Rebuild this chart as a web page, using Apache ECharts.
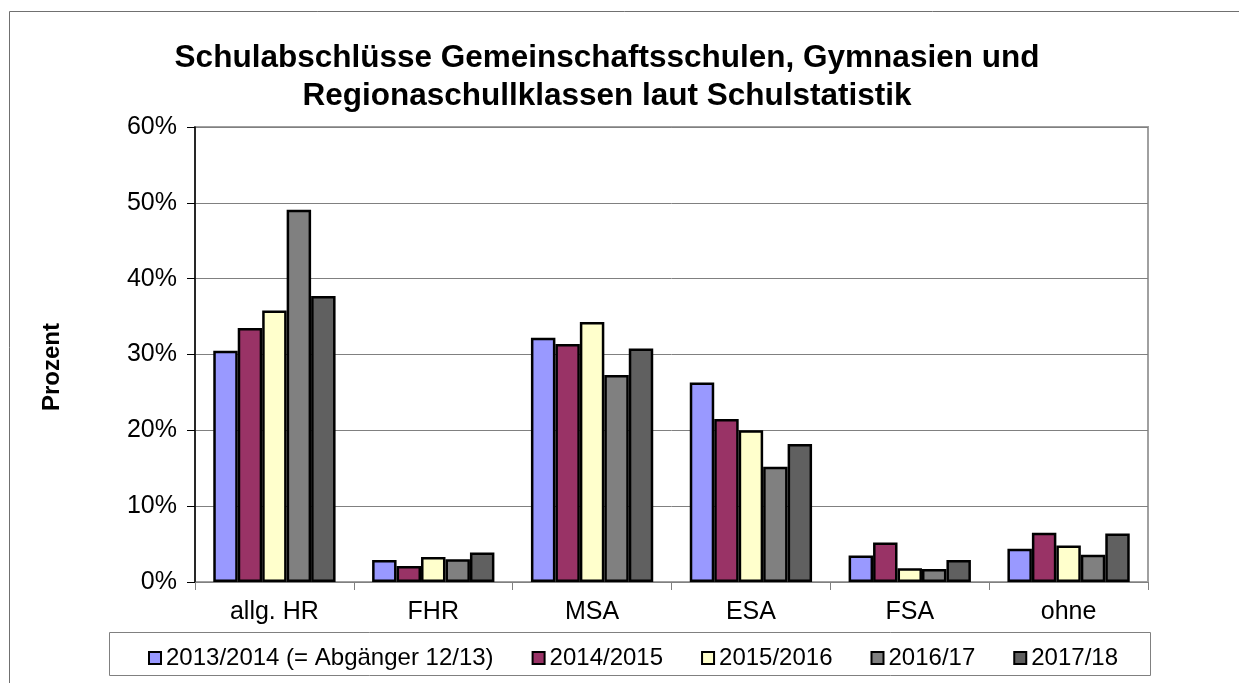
<!DOCTYPE html>
<html>
<head>
<meta charset="utf-8">
<script src="https://cdn.jsdelivr.net/npm/echarts@6/dist/echarts.min.js"></script>
<style>
  html, body { margin: 0; padding: 0; background: #fff; }
  #chart { width: 1239px; height: 683px; }
</style>
</head>
<body>
<div id="chart"></div>
<script>
// Schulabschlüsse nach Abschlussart (Prozent)
const categories = ['allg. HR', 'FHR', 'MSA', 'ESA', 'FSA', 'ohne']
const seriesNames = ['2013/2014 (= Abgänger 12/13)', '2014/2015', '2015/2016', '2016/17', '2017/18']
const y2013 = [30.5, 2.9, 32.2, 26.3, 3.5, 4.4]
const y2014 = [33.5, 2.1, 31.4, 21.5, 5.2, 6.5]
const y2015 = [35.8, 3.3, 34.3, 20.0, 1.8, 4.8]
const y2016 = [49.1, 3.0, 27.3, 15.2, 1.7, 3.6]
const y2017 = [37.7, 3.9, 30.8, 18.2, 2.9, 6.4]
const yTicks = [0, 10, 20, 30, 40, 50, 60]

const seriesData = [y2013, y2014, y2015, y2016, y2017]
const colors = ['#9999ff', '#993366', '#ffffcc', '#808080', '#606060']
const font = '"Liberation Sans", Arial, sans-serif'

const chart = echarts.init(document.getElementById('chart'), null, { renderer: 'canvas' })

chart.setOption({
  animation: false,
  backgroundColor: '#fff',
  title: {
    text: 'Schulabschlüsse Gemeinschaftsschulen, Gymnasien und\nRegionaschullklassen laut Schulstatistik',
    left: 602,
    top: 34,
    textAlign: 'center',
    textStyle: {
      fontFamily: font,
      fontSize: 31.5,
      fontWeight: 'bold',
      color: '#000',
      lineHeight: 38
    }
  },
  graphic: [
    {
      type: 'rect',
      shape: { x: 9.5, y: 11.5, width: 1400, height: 900 },
      style: { fill: 'none', stroke: '#707070', lineWidth: 1 },
      silent: true,
      z: -10
    },
    {
      type: 'rect',
      shape: { x: 109.5, y: 632.5, width: 1041, height: 43 },
      style: { fill: '#fff', stroke: '#808080', lineWidth: 1 },
      silent: true,
      z: 0
    },
    {
      type: 'text',
      x: 52,
      y: 367,
      rotation: Math.PI / 2,
      style: {
        text: 'Prozent',
        fontFamily: font,
        fontSize: 24,
        fontWeight: 'bold',
        fill: '#000',
        align: 'center',
        verticalAlign: 'middle'
      }
    }
  ],
  legend: {
    left: 143,
    top: 639,
    itemWidth: 12,
    itemHeight: 12,
    itemGap: 38,
    icon: 'rect',
    itemStyle: { borderColor: '#000', borderWidth: 2 },
    textStyle: { fontFamily: font, fontSize: 24, color: '#000', lineHeight: 28 },
    z: 5
  },
  grid: {
    left: 195,
    right: 91,
    top: 127,
    bottom: 101,
    show: true,
    borderColor: '#a0a0a0',
    borderWidth: 2,
    backgroundColor: 'transparent'
  },
  xAxis: {
    type: 'category',
    data: categories,
    axisLine: { lineStyle: { color: '#808080', width: 1 } },
    axisTick: { show: true, length: 8, lineStyle: { color: '#808080' } },
    axisLabel: { color: '#000', fontFamily: font, fontSize: 25, margin: 18 }
  },
  yAxis: {
    type: 'value',
    min: yTicks[0],
    max: yTicks[yTicks.length - 1],
    interval: 10,
    axisLine: { show: true, lineStyle: { color: '#000', width: 1.5 } },
    axisTick: { show: true, length: 8, lineStyle: { color: '#000' } },
    splitLine: { lineStyle: { color: '#808080', width: 1 } },
    axisLabel: {
      color: '#000',
      fontFamily: font,
      fontSize: 25,
      margin: 18,
      formatter: '{value}%'
    }
  },
  series: seriesNames.map((name, i) => ({
    name: name,
    type: 'bar',
    data: seriesData[i],
    barGap: '0%',
    barCategoryGap: '23%',
    itemStyle: { color: colors[i], borderColor: '#000', borderWidth: 2.5 }
  }))
})
</script>
</body>
</html>
